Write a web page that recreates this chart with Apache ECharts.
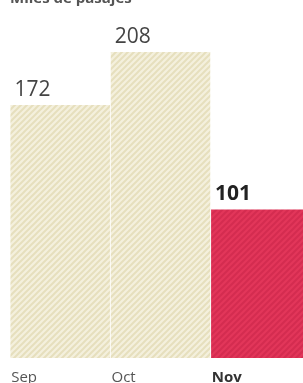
<!DOCTYPE html>
<html>
<head>
<meta charset="utf-8">
<script src="https://cdn.jsdelivr.net/npm/echarts@6/dist/echarts.min.js"></script>
<style>
  html, body { margin: 0; padding: 0; background: #fff; }
  #chart { width: 303px; height: 383px; }
</style>
</head>
<body>
<div id="chart"></div>
<script>
const months = ['Sep', 'Oct', 'Nov']
const pasajes = [172, 208, 101]
const highlightIndex = 2
const titleText = 'Miles de pasajes'

// diagonal hatch pattern
function hatch(base, stripe) {
  const c = document.createElement('canvas')
  c.width = 6
  c.height = 6
  const ctx = c.getContext('2d')
  ctx.fillStyle = base
  ctx.fillRect(0, 0, 6, 6)
  ctx.strokeStyle = stripe
  ctx.lineWidth = 2
  ctx.beginPath()
  ctx.moveTo(-1, 7); ctx.lineTo(7, -1)
  ctx.moveTo(-4, 4); ctx.lineTo(4, -4)
  ctx.moveTo(2, 10); ctx.lineTo(10, 2)
  ctx.stroke()
  return { image: c, repeat: 'repeat' }
}

const beige = hatch('#f4f0dd', '#e6dfbd')
const red = hatch('#e2365a', '#d42c50')

const chart = echarts.init(document.getElementById('chart'))
chart.setOption({
  animation: false,
  graphic: [{
    type: 'text',
    left: 10,
    top: -9,
    style: { text: titleText, font: 'bold 15px "Open Sans"', fill: '#555' },
  }],
  grid: { left: 10, right: -8, top: 5, bottom: 25, outerBoundsMode: 'none', containLabel: false },
  xAxis: {
    type: 'category',
    data: months,
    axisLine: { show: false },
    axisTick: { show: false },
    axisLabel: {
      interval: 0,
      align: 'left',
      margin: 12,
      padding: [0, 0, 0, -49],
      fontFamily: 'Open Sans',
      fontSize: 15,
      color: '#555',
      formatter: (v, i) => (i === highlightIndex ? '{b|' + v + '}' : v),
      rich: { b: { fontFamily: 'Open Sans', fontSize: 15, fontWeight: 'bold', color: '#333' } },
    },
  },
  yAxis: { type: 'value', min: 0, max: 240, show: false, splitLine: { show: false } },
  series: [{
    type: 'bar',
    barWidth: 99.5,
    data: pasajes.map((v, i) => ({
      value: v,
      itemStyle: { color: i === highlightIndex ? red : beige },
      label: i === highlightIndex
        ? { fontWeight: 'bold', color: '#222' }
        : {},
    })),
    label: {
      show: true,
      position: [4, -26],
      fontFamily: 'Open Sans',
      fontSize: 21,
      color: '#444',
    },
  }],
})
</script>
</body>
</html>
